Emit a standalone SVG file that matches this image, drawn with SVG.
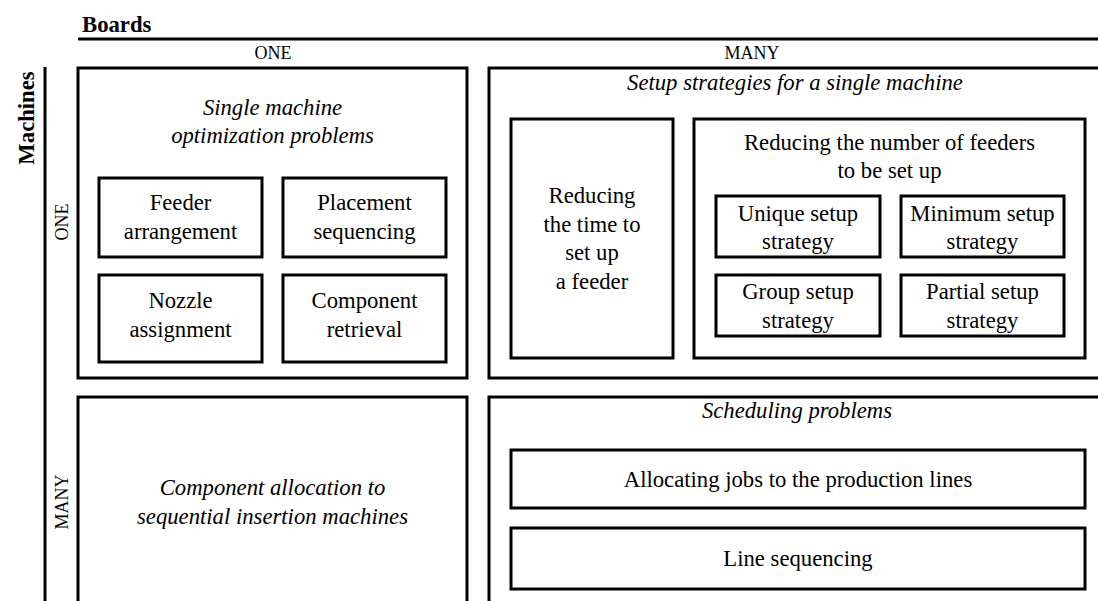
<svg xmlns="http://www.w3.org/2000/svg" width="1098" height="601" viewBox="0 0 1098 601">
<style>
text{font-family:"Liberation Serif","Times New Roman",serif;fill:#000;text-anchor:middle}
.t{font-size:22.7px}
.i{font-size:22.7px;font-style:italic}
.s{font-size:18px}
.b{font-size:22.7px;font-weight:bold}
.box{fill:#fff;stroke:#000;stroke-width:3}
.ax{stroke:#000;stroke-width:3;fill:none}
</style>
<rect width="1098" height="601" fill="#fff"/>
<g id="axes">
<text class="b" x="82" y="32" style="text-anchor:start">Boards</text>
<line class="ax" x1="78" y1="39" x2="1098" y2="39"/>
<text class="s" x="273" y="59">ONE</text>
<text class="s" x="752" y="59">MANY</text>
<text class="b" transform="translate(34,118) rotate(-90)">Machines</text>
<line class="ax" x1="45" y1="67" x2="45" y2="601"/>
<text class="s" transform="translate(68,222) rotate(-90)">ONE</text>
<text class="s" transform="translate(68,502) rotate(-90)">MANY</text>
</g>
<g id="single-machine">
<rect class="box" x="78" y="68" width="389" height="310"/>
<text class="i" x="272.5" y="115">Single machine</text>
<text class="i" x="272.5" y="143">optimization problems</text>
</g>
<g id="feeder-arrangement">
<rect class="box" x="99" y="178" width="163" height="79"/>
<text class="t" x="180.5" y="210">Feeder</text>
<text class="t" x="180.5" y="239">arrangement</text>
</g>
<g id="placement-sequencing">
<rect class="box" x="283" y="178" width="163" height="79"/>
<text class="t" x="364.5" y="210">Placement</text>
<text class="t" x="364.5" y="239">sequencing</text>
</g>
<g id="nozzle-assignment">
<rect class="box" x="99" y="275" width="163" height="87"/>
<text class="t" x="180.5" y="308">Nozzle</text>
<text class="t" x="180.5" y="337">assignment</text>
</g>
<g id="component-retrieval">
<rect class="box" x="283" y="275" width="163" height="87"/>
<text class="t" x="364.5" y="308">Component</text>
<text class="t" x="364.5" y="337">retrieval</text>
</g>
<g id="setup-strategies">
<rect class="box" x="489" y="68" width="612" height="310"/>
<text class="i" x="795" y="90">Setup strategies for a single machine</text>
</g>
<g id="reducing-time">
<rect class="box" x="511" y="119" width="162" height="239"/>
<text class="t" x="592" y="203">Reducing</text>
<text class="t" x="592" y="232">the time to</text>
<text class="t" x="592" y="260">set up</text>
<text class="t" x="592" y="289">a feeder</text>
</g>
<g id="reducing-number">
<rect class="box" x="694" y="119" width="391" height="239"/>
<text class="t" x="889.5" y="150">Reducing the number of feeders</text>
<text class="t" x="889.5" y="178">to be set up</text>
</g>
<g id="unique-setup">
<rect class="box" x="716" y="196" width="164" height="61"/>
<text class="t" x="798" y="221">Unique setup</text>
<text class="t" x="798" y="249">strategy</text>
</g>
<g id="minimum-setup">
<rect class="box" x="901" y="196" width="163" height="61"/>
<text class="t" x="982.5" y="221">Minimum setup</text>
<text class="t" x="982.5" y="249">strategy</text>
</g>
<g id="group-setup">
<rect class="box" x="716" y="275" width="164" height="61"/>
<text class="t" x="798" y="299">Group setup</text>
<text class="t" x="798" y="328">strategy</text>
</g>
<g id="partial-setup">
<rect class="box" x="901" y="275" width="163" height="61"/>
<text class="t" x="982.5" y="299">Partial setup</text>
<text class="t" x="982.5" y="328">strategy</text>
</g>
<g id="component-allocation">
<rect class="box" x="78" y="397" width="389" height="210"/>
<text class="i" x="272.5" y="495">Component allocation to</text>
<text class="i" x="272.5" y="524">sequential insertion machines</text>
</g>
<g id="scheduling">
<rect class="box" x="489" y="397" width="612" height="210"/>
<text class="i" x="797" y="418">Scheduling problems</text>
</g>
<g id="allocating-jobs">
<rect class="box" x="511" y="450" width="574" height="58"/>
<text class="t" x="798" y="487">Allocating jobs to the production lines</text>
</g>
<g id="line-sequencing">
<rect class="box" x="511" y="528" width="574" height="61"/>
<text class="t" x="798" y="566">Line sequencing</text>
</g>
<g id="connectors"></g>
</svg>
